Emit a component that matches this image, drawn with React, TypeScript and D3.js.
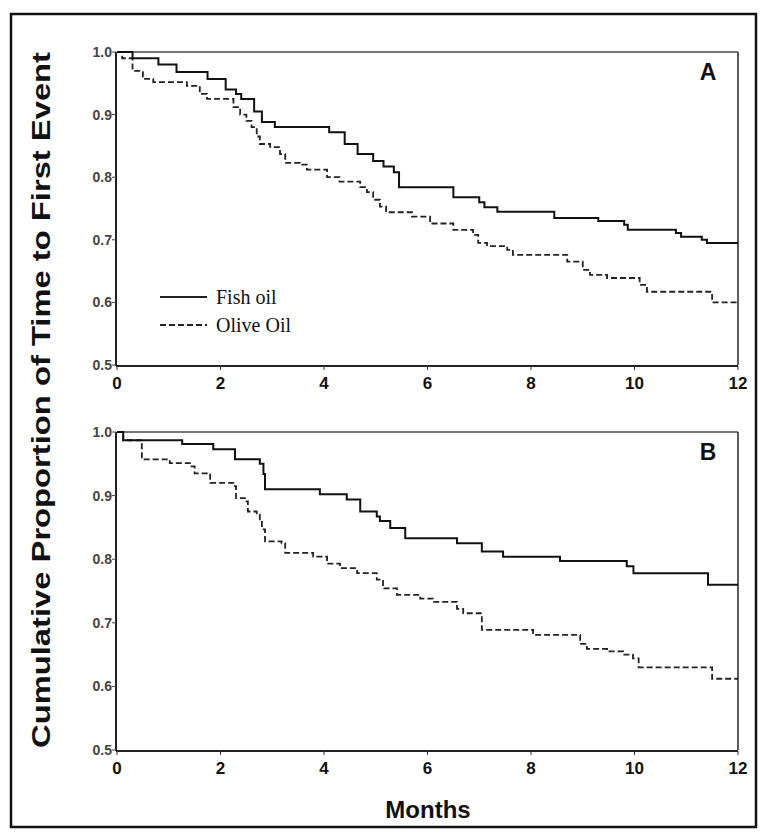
import React from "react";
import * as d3 from "d3";

// ---- Data ----
const monthTicks = [0, 2, 4, 6, 8, 10, 12];
const propTicks = [0.5, 0.6, 0.7, 0.8, 0.9, 1.0];

// Panel A
const aFishT = [0, 0.3, 0.8, 1.15, 1.75, 2.1, 2.3, 2.4, 2.65, 2.8, 3.05, 4.1, 4.4, 4.65, 4.95, 5.15, 5.35, 5.45, 6.5, 7.0, 7.1, 7.35, 8.45, 9.3, 9.8, 9.87, 10.8, 10.9, 11.3, 11.4];
const aFishV = [1.0, 0.99, 0.98, 0.968, 0.957, 0.94, 0.933, 0.925, 0.905, 0.888, 0.88, 0.872, 0.853, 0.837, 0.826, 0.817, 0.808, 0.784, 0.768, 0.76, 0.752, 0.745, 0.735, 0.73, 0.724, 0.716, 0.711, 0.705, 0.7, 0.695];
const aOliveT = [0, 0.1, 0.3, 0.5, 0.7, 1.35, 1.6, 1.74, 2.25, 2.38, 2.5, 2.6, 2.7, 2.76, 2.96, 3.15, 3.25, 3.54, 3.67, 4.06, 4.3, 4.7, 4.83, 4.95, 5.08, 5.2, 5.7, 6.05, 6.5, 6.88, 6.98, 7.15, 7.54, 7.65, 8.7, 9.0, 9.14, 9.47, 10.1, 10.24, 11.5];
const aOliveV = [1.0, 0.99, 0.97, 0.957, 0.952, 0.946, 0.933, 0.925, 0.912, 0.9, 0.89, 0.88, 0.865, 0.853, 0.848, 0.837, 0.823, 0.82, 0.812, 0.8, 0.793, 0.784, 0.776, 0.764, 0.753, 0.744, 0.737, 0.726, 0.716, 0.708, 0.695, 0.69, 0.684, 0.676, 0.665, 0.652, 0.644, 0.639, 0.628, 0.617, 0.6];

// Panel B
const bFishT = [0, 0.12, 1.26, 1.86, 2.28, 2.76, 2.83, 2.86, 3.92, 4.44, 4.7, 5.02, 5.08, 5.28, 5.57, 6.57, 7.05, 7.46, 8.56, 9.85, 9.98, 11.42];
const bFishV = [1.0, 0.987, 0.981, 0.973, 0.957, 0.95, 0.934, 0.91, 0.902, 0.894, 0.875, 0.867, 0.86, 0.849, 0.833, 0.825, 0.812, 0.804, 0.797, 0.789, 0.778, 0.76];
const bOliveT = [0, 0.12, 0.48, 1.02, 1.41, 1.5, 1.8, 2.25, 2.3, 2.5, 2.53, 2.7, 2.76, 2.8, 2.86, 3.18, 3.25, 3.79, 4.06, 4.31, 4.64, 5.02, 5.14, 5.41, 5.86, 6.1, 6.57, 6.69, 7.05, 8.04, 8.95, 9.08, 9.47, 9.78, 9.97, 10.08, 11.5];
const bOliveV = [1.0, 0.987, 0.957, 0.951, 0.946, 0.935, 0.92, 0.915, 0.896, 0.891, 0.875, 0.87, 0.86, 0.847, 0.828, 0.825, 0.81, 0.804, 0.793, 0.786, 0.778, 0.768, 0.754, 0.744, 0.738, 0.733, 0.722, 0.715, 0.689, 0.681, 0.667, 0.659, 0.655, 0.65, 0.644, 0.63, 0.612];

const seriesNames = ["Fish oil", "Olive Oil"];
const panelLabels = ["A", "B"];

const W = 767;
const H = 837;
const X0 = 117;
const X1 = 738;

const x = d3.scaleLinear().domain([0, 12]).range([X0, X1]);

function toPts(ts: number[], vs: number[]): [number, number][] {
  const pts: [number, number][] = ts.map((t, i) => [t, vs[i]]);
  pts.push([12, vs[vs.length - 1]]);
  return pts;
}

const tickFont = "'Liberation Sans', Arial, sans-serif";

function Panel({ top, bottom, fish, olive, label, legend }: any) {
  const y = d3.scaleLinear().domain([0.5, 1]).range([bottom, top]);
  const line = d3
    .line<[number, number]>()
    .x((d) => x(d[0]))
    .y((d) => y(d[1]))
    .curve(d3.curveStepAfter);
  return (
    <g>
      {/* frame */}
      <line x1={X0} x2={X1} y1={top} y2={top} stroke="#777" strokeWidth={2} />
      <line x1={X1} x2={X1} y1={top} y2={bottom} stroke="#333" strokeWidth={1.6} />
      <line x1={X0 - 1} x2={X0 - 1} y1={top} y2={bottom + 1} stroke="#222" strokeWidth={2} />
      <line x1={X0 - 1} x2={X1} y1={bottom + 1} y2={bottom + 1} stroke="#222" strokeWidth={2} />
      {/* y ticks */}
      {propTicks.map((v) => (
        <g key={v}>
          <line x1={X0 - 5} x2={X0 - 1} y1={y(v)} y2={y(v)} stroke="#444" strokeWidth={1} />
          <text
            x={X0 - 5}
            y={y(v)}
            dy="0.36em"
            textAnchor="end"
            fontFamily={tickFont}
            fontWeight="bold"
            fontSize={14}
            fill="#444"
          >
            {v.toFixed(1)}
          </text>
        </g>
      ))}
      {/* x ticks */}
      {monthTicks.map((m) => (
        <g key={m}>
          <line x1={x(m)} x2={x(m)} y1={bottom + 1} y2={bottom + 5} stroke="#333" strokeWidth={1} />
          <text
            x={x(m)}
            y={bottom + 24}
            textAnchor="middle"
            fontFamily={tickFont}
            fontWeight="bold"
            fontSize={17}
            fill="#111"
          >
            {m}
          </text>
        </g>
      ))}
      <path d={line(olive) || ""} fill="none" stroke="#222" strokeWidth={1.8} strokeDasharray="6,3" />
      <path d={line(fish) || ""} fill="none" stroke="#111" strokeWidth={2} />
      <text
        x={708}
        y={top + 28}
        textAnchor="middle"
        fontFamily={tickFont}
        fontWeight="bold"
        fontSize={23}
        fill="#111"
      >
        {label}
      </text>
      {legend && (
        <g>
          <line x1={160} x2={207} y1={297} y2={297} stroke="#222" strokeWidth={2} />
          <text x={216} y={297} dy="0.35em" fontFamily="'Liberation Serif', 'Times New Roman', serif" fontSize={20} fill="#111">
            {seriesNames[0]}
          </text>
          <line x1={160} x2={207} y1={325} y2={325} stroke="#222" strokeWidth={1.8} strokeDasharray="6,3" />
          <text x={216} y={325} dy="0.35em" fontFamily="'Liberation Serif', 'Times New Roman', serif" fontSize={20} fill="#111">
            {seriesNames[1]}
          </text>
        </g>
      )}
    </g>
  );
}

export default function App() {
  return (
    <svg
      width={W}
      height={H}
      viewBox={`0 0 ${W} ${H}`}
      style={{ position: "absolute", left: 0, top: 0, background: "#fff" }}
    >
      <rect x={0} y={0} width={W} height={H} fill="#fff" />
      <rect x={11} y={14} width={745} height={813} fill="none" stroke="#111" strokeWidth={2.5} />
      <Panel top={52} bottom={365} fish={toPts(aFishT, aFishV)} olive={toPts(aOliveT, aOliveV)} label={panelLabels[0]} legend />
      <Panel top={432} bottom={750} fish={toPts(bFishT, bFishV)} olive={toPts(bOliveT, bOliveV)} label={panelLabels[1]} />
      <text
        transform="translate(50,400) rotate(-90)"
        textAnchor="middle"
        fontFamily="'Liberation Sans Narrow', 'Liberation Sans', Arial, sans-serif"
        fontWeight="bold"
        fontSize={25}
        fill="#111"
        textLength={696}
        lengthAdjust="spacingAndGlyphs"
      >
        Cumulative Proportion of Time to First Event
      </text>
      <text
        x={428}
        y={818}
        textAnchor="middle"
        fontFamily={tickFont}
        fontWeight="bold"
        fontSize={24}
        fill="#111"
      >
        Months
      </text>
    </svg>
  );
}
